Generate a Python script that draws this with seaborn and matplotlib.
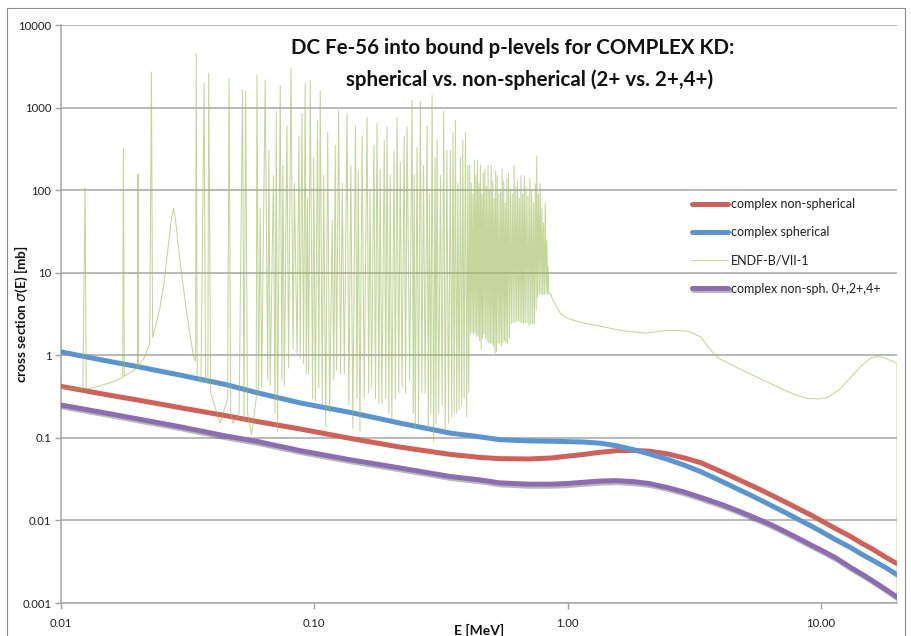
import matplotlib
matplotlib.use("Agg")
import matplotlib.pyplot as plt
import matplotlib.patheffects as pe
from matplotlib.patches import Rectangle
import seaborn as sns
import pandas as pd

# ---- model cross sections (MeV, mb) ----
energy = [0.01, 0.015, 0.02, 0.03, 0.045, 0.06, 0.088, 0.14, 0.22, 0.345, 0.45, 0.54, 0.7,
          0.86, 1.0, 1.16, 1.35, 1.57, 1.82, 2.1, 2.48, 2.9, 3.36, 3.8, 4.2, 4.7, 5.29,
          5.9, 6.5, 7.3, 8.3, 9.2, 10.0, 11.5, 13.1, 14.5, 16.0, 18.0, 20.0]
xs_nonspherical = [0.42, 0.335, 0.288, 0.23, 0.185, 0.157, 0.128, 0.098, 0.077, 0.063, 0.058,
                   0.056, 0.0555, 0.057, 0.060, 0.063, 0.067, 0.070, 0.0705, 0.069, 0.064,
                   0.057, 0.050, 0.0424, 0.0370, 0.0316, 0.0267, 0.0228, 0.0197, 0.0165,
                   0.0135, 0.0115, 0.0100, 0.0079, 0.0064, 0.0053, 0.0045, 0.0036, 0.0030]
xs_spherical = [1.10, 0.86, 0.73, 0.57, 0.44, 0.35, 0.265, 0.202, 0.150, 0.114, 0.103, 0.095,
                0.092, 0.091, 0.090, 0.089, 0.086, 0.080, 0.072, 0.064, 0.055, 0.0465, 0.0389,
                0.0327, 0.0283, 0.0240, 0.0202, 0.0171, 0.0147, 0.0123, 0.0100, 0.0085,
                0.0074, 0.0058, 0.0047, 0.0039, 0.0033, 0.0027, 0.0022]
xs_nonsph_024 = [0.25, 0.20, 0.17, 0.135, 0.105, 0.09, 0.07, 0.054, 0.043, 0.034, 0.031,
                 0.0285, 0.0275, 0.0275, 0.028, 0.029, 0.030, 0.0303, 0.0295, 0.028, 0.025,
                 0.022, 0.019, 0.0167, 0.0150, 0.0131, 0.0113, 0.0098, 0.0086, 0.0072,
                 0.0059, 0.0050, 0.0044, 0.0035, 0.0027, 0.00225, 0.00186, 0.00147, 0.00118]

# ---- evaluated data (ENDF-B/VII-1): resonance region and smooth tail ----
endf_energy = [
    # isolated resonances
    0.0100, 0.0122, 0.01244, 0.01258, 0.0140, 0.0158, 0.01752, 0.01764, 0.01778, 0.0190,
    0.02005, 0.02013, 0.02022, 0.0214, 0.0224, 0.02275, 0.02300, 0.0240, 0.0246, 0.0252,
    0.0257, 0.0262, 0.0268, 0.0273, 0.0278, 0.0283, 0.0288, 0.0295, 0.0301, 0.0308,
    0.0314, 0.0322, 0.0334, 0.03400, 0.03417, 0.0345, 0.0357, 0.03675, 0.0372, 0.03800,
    0.0383, 0.0390, 0.0425, 0.0455, 0.0461, 0.0468, 0.0478, 0.0505, 0.0521, 0.0528,
    0.0536, 0.0545, 0.0565, 0.0590,
    # dense resonances
    0.0594, 0.0603, 0.0612, 0.0620, 0.0640, 0.0655, 0.0662, 0.0670, 0.0690, 0.0700,
    0.0708, 0.0716, 0.0734, 0.0745, 0.0752, 0.0762, 0.0780, 0.0792, 0.0809, 0.0825,
    0.0835, 0.0855, 0.0870, 0.0880, 0.0894, 0.0907, 0.0921, 0.0930, 0.0940, 0.0950,
    0.0964, 0.0985, 0.0995, 0.1010, 0.1030, 0.1042, 0.1056, 0.1075, 0.1090, 0.1110,
    0.1130, 0.1150, 0.1177, 0.1195, 0.1210, 0.1225, 0.1248, 0.1270, 0.1290, 0.1315,
    0.1347, 0.1370, 0.1395, 0.1420, 0.1455, 0.1475, 0.1492, 0.1515, 0.1545, 0.1575,
    0.1616, 0.1640, 0.1660, 0.1685, 0.1720, 0.1745, 0.1769, 0.1800, 0.1820, 0.1850,
    0.1890, 0.1915, 0.1938, 0.1970, 0.1995, 0.2025, 0.2065, 0.2090, 0.2123, 0.2155,
    0.2185, 0.2222, 0.2265, 0.2295, 0.2325, 0.2380, 0.2433, 0.2460, 0.2480, 0.2505,
    0.2546, 0.2580, 0.2624, 0.2660, 0.2700, 0.2740, 0.2790, 0.2820, 0.2850, 0.2885,
    0.2920, 0.2960, 0.3000, 0.3025, 0.3055, 0.3100, 0.3150, 0.3200, 0.3244, 0.3290,
    0.3340, 0.3390, 0.3447, 0.3490, 0.3530, 0.3570, 0.3608, 0.3650, 0.3690, 0.3730,
    0.3777, 0.3820, 0.3860, 0.3905, 0.3953, 0.4000, 0.4040, 0.4075,
    # resonances on a raised background
    0.4110, 0.4140, 0.4170, 0.4200, 0.4230, 0.4260, 0.4290, 0.4320, 0.4350, 0.4380,
    0.4410, 0.4440, 0.4470, 0.4500, 0.4530, 0.4560, 0.4590, 0.4620, 0.4650, 0.4680,
    0.4715, 0.4750, 0.4785, 0.4820, 0.4855, 0.4890, 0.4925, 0.4960, 0.4995, 0.5030,
    0.5065, 0.5100, 0.5135, 0.5170, 0.5205, 0.5240, 0.5280, 0.5320, 0.5360, 0.5400,
    0.5440, 0.5480, 0.5520, 0.5560, 0.5600, 0.5640, 0.5680, 0.5720, 0.5760, 0.5800,
    0.5850, 0.5900, 0.5950, 0.6000, 0.6050, 0.6100, 0.6150, 0.6200, 0.6250, 0.6300,
    0.6350, 0.6400, 0.6450, 0.6500, 0.6550, 0.6600, 0.6650, 0.6700, 0.6750, 0.6800,
    0.6860, 0.6920, 0.6980, 0.7040, 0.7100, 0.7160, 0.7220, 0.7280, 0.7340, 0.7400,
    0.7460, 0.7520, 0.7560, 0.7620, 0.7680, 0.7740, 0.7800, 0.7860, 0.7920, 0.7980,
    0.8040, 0.8100, 0.8170, 0.8230, 0.8290, 0.8340, 0.8380, 0.8420, 0.8567,
    # smooth tail
    0.870, 0.900, 0.938, 1.000, 1.125, 1.30, 1.62, 2.03, 2.30, 2.48,
    2.72, 3.00, 3.36, 3.60, 3.78, 3.95, 4.50, 5.29, 6.20, 7.14,
    8.00, 8.89, 9.80, 10.66, 11.80, 13.14, 14.50, 15.70, 16.80, 18.00,
    20.0, 20.0,
]
endf_xs = [
    0.40, 0.39, 107, 0.39, 0.42, 0.47, 0.54, 320, 0.56, 0.63,
    0.72, 155, 0.74, 0.95, 1.4, 2700, 1.65, 2.7, 3.8, 6.0,
    9.0, 15, 28, 46, 60, 45, 27, 14, 8.5, 5.0,
    3.2, 1.9, 0.95, 0.85, 4500, 0.6, 0.46, 2000, 0.5, 0.46,
    2600, 0.35, 0.15, 0.3, 2250, 0.2, 0.15, 0.2, 1650, 0.16,
    1580, 0.2, 0.11, 0.3,
    2450, 0.35, 60, 0.41, 2150, 0.5, 300, 0.43, 150, 0.2,
    900, 0.12, 1850, 0.5, 200, 0.43, 600, 0.7, 3000, 1.2,
    120, 1.05, 450, 0.9, 850, 0.8, 1950, 0.6, 80, 0.6,
    2150, 0.3, 250, 0.28, 700, 0.4, 1620, 0.25, 150, 0.135,
    500, 0.2, 43, 0.5, 350, 0.66, 930, 0.6, 120, 0.6,
    850, 0.25, 200, 0.13, 600, 0.3, 170, 0.12, 450, 0.3,
    760, 0.35, 100, 0.41, 350, 0.3, 640, 0.26, 180, 0.26,
    400, 0.3, 580, 0.2, 150, 0.17, 300, 0.3, 760, 0.35,
    220, 0.41, 450, 0.35, 580, 0.5, 1230, 0.2, 150, 0.13,
    330, 0.15, 1200, 0.35, 200, 0.35, 600, 0.13, 90, 0.2,
    1400, 0.09, 250, 0.15, 400, 0.2, 150, 0.25, 900, 0.12,
    300, 0.15, 300, 0.18, 500, 0.2, 700, 0.2, 120, 0.22,
    250, 0.25, 400, 0.3, 500, 0.18, 200, 0.35,
    200, 1.8, 120, 1.9, 90, 1.8, 230, 1.9, 150, 1.7,
    230, 1.7, 120, 1.5, 200, 1.2, 90, 1.6, 160, 1.8,
    180, 1.6, 110, 1.5, 200, 1.4, 100, 1.4, 200, 1.4,
    130, 1.3, 80, 1.05, 170, 1.1, 150, 1.4, 90, 1.4,
    100, 1.3, 180, 1.4, 130, 1.5, 70, 1.4, 140, 1.4,
    160, 1.6, 100, 2.4, 90, 2.5, 200, 2.5, 110, 2.6,
    130, 2.6, 80, 2.5, 150, 2.5, 90, 2.4, 150, 2.5,
    110, 2.5, 85, 2.3, 140, 2.4, 100, 2.4, 70, 2.4,
    120, 3.5, 260, 5.0, 90, 5.5, 120, 5.5, 60, 5.4,
    40, 5.4, 70, 5.6, 25, 5.6, 12, 5.6, 5.6,
    4.9, 4.0, 3.2, 2.8, 2.5, 2.3, 2.0, 1.85, 1.95, 2.0,
    2.0, 1.95, 1.67, 1.25, 1.05, 0.92, 0.75, 0.59, 0.47, 0.38,
    0.33, 0.30, 0.295, 0.31, 0.38, 0.54, 0.75, 0.92, 0.97, 0.92,
    0.80, 0.0005,
]

# ---- axis ticks ----
x_ticks = [0.01, 0.1, 1.0, 10.0]
x_tick_labels = ["0.01", "0.10", "1.00", "10.00"]
y_ticks = [0.001, 0.01, 0.1, 1, 10, 100, 1000, 10000]
y_tick_labels = ["0.001", "0.01", "0.1", "1", "10", "100", "1000", "10000"]

sns.set_theme(style="ticks")
plt.rcParams["font.family"] = ["Lato", "DejaVu Sans"]
plt.rcParams["mathtext.fontset"] = "dejavusans"

W, H = 911, 636
fig = plt.figure(figsize=(W / 100, H / 100), dpi=100)
ax = fig.add_axes([61 / W, 1 - 603 / H, (897 - 61) / W, (603 - 25) / H])
ax.set_xscale("log")
ax.set_yscale("log")

curves = pd.DataFrame({"E": energy, "ns": xs_nonspherical, "sp": xs_spherical, "n024": xs_nonsph_024})
endf = pd.DataFrame({"E": endf_energy, "xs": endf_xs})

sns.lineplot(data=curves, x="E", y="ns", ax=ax, color="#d0605a", lw=3.6,
             label="complex non-spherical", estimator=None, sort=False, zorder=3)
sns.lineplot(data=curves, x="E", y="sp", ax=ax, color="#5b94cf", lw=3.6,
             label="complex spherical", estimator=None, sort=False, zorder=3)
sns.lineplot(data=endf, x="E", y="xs", ax=ax, color="#9bbb59", lw=0.75, alpha=0.6,
             label="ENDF-B/VII-1", estimator=None, sort=False, zorder=4)
sns.lineplot(data=curves, x="E", y="n024", ax=ax, color="#8b6db0", lw=3.6,
             label="complex non-sph. 0+,2+,4+", estimator=None, sort=False, zorder=5)
ax.lines[-1].set_path_effects([pe.SimpleLineShadow(offset=(1.0, -1.5), shadow_color="k", alpha=0.3),
                               pe.Normal()])

ax.set_xlim(0.01, 20)
ax.set_ylim(0.001, 10000)
ax.set_xticks(x_ticks)
ax.set_xticklabels(x_tick_labels)
ax.set_yticks(y_ticks)
ax.set_yticklabels(y_tick_labels)
ax.minorticks_off()
ax.tick_params(axis="both", which="major", direction="out", length=4, width=1,
               color="#a0a0a0", labelsize=8.2, labelcolor="#202020")
ax.tick_params(axis="x", pad=7)
ax.tick_params(axis="y", pad=3)
ax.grid(axis="y", color="#a6a6a6", lw=1.1)
ax.grid(axis="x", visible=False)
for side in ("top", "right"):
    ax.spines[side].set_visible(False)
for side in ("left", "bottom"):
    ax.spines[side].set_color("#a6a6a6")
    ax.spines[side].set_linewidth(1.1)
ax.set_xlabel("")
ax.set_ylabel("")

leg = ax.legend(loc="upper left", bbox_to_anchor=(692 / W, 1 - 198 / H),
                bbox_transform=fig.transFigure, frameon=False, fontsize=9,
                handlelength=2.9, handletextpad=0.25, labelspacing=1.3, borderpad=0,
                borderaxespad=0)
for t in leg.get_texts():
    t.set_color("#202020")

fig.text(513 / W, 1 - 48 / H, "DC Fe-56 into bound p-levels for COMPLEX KD:",
         ha="center", va="center", fontsize=14.8, fontweight="bold", color="#111111")
fig.text(530 / W, 1 - 80 / H, "spherical vs. non-spherical (2+ vs. 2+,4+)",
         ha="center", va="center", fontsize=14.8, fontweight="bold", color="#111111")

fig.text(21 / W, 1 - 314 / H, r"cross section $\sigma$(E) [mb]", rotation=90,
         ha="center", va="center", fontsize=9.8, fontweight="bold", color="#111111")
fig.text(479 / W, 1 - 630 / H, "E [MeV]", ha="center", va="center",
         fontsize=10, fontweight="bold", color="#111111")

fig.patches.append(Rectangle((7 / W, -0.05), (905 - 7) / W, (636 - 8) / H + 0.05,
                             transform=fig.transFigure, fill=False,
                             edgecolor="#8c8c8c", lw=0.8))

fig.savefig("out.png", dpi=100)
